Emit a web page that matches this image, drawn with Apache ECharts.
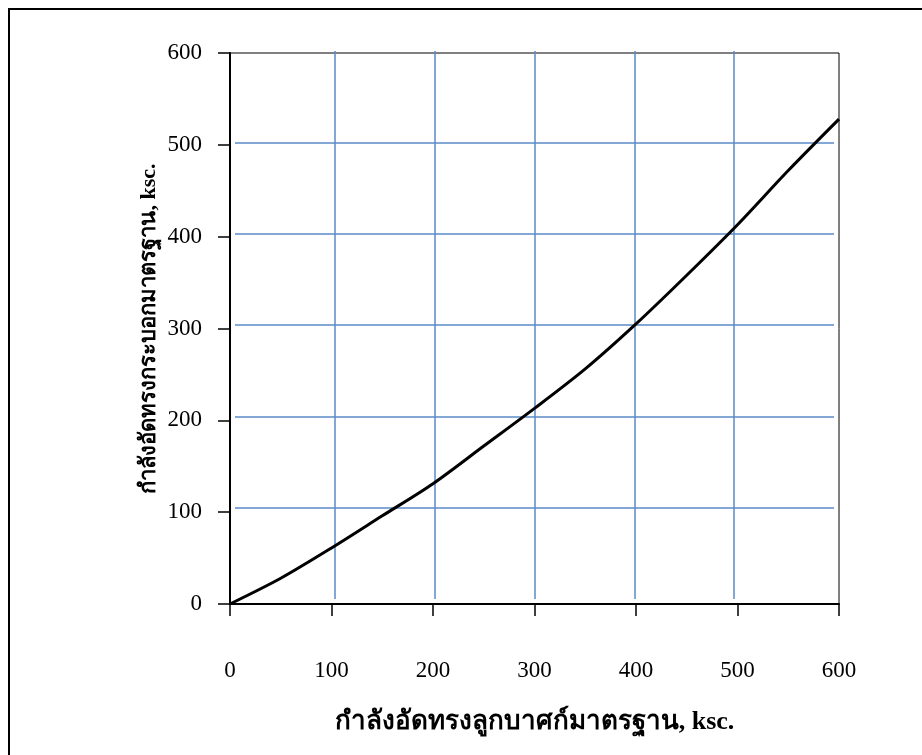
<!DOCTYPE html>
<html>
<head>
<meta charset="utf-8">
<script src="https://cdn.jsdelivr.net/npm/echarts@6/dist/echarts.min.js"></script>
<style>
html, body { margin: 0; padding: 0; background: #fff; }
#chart { width: 922px; height: 755px; }
</style>
</head>
<body>
<div id="chart"></div>
<script>
// cube strength (x) vs cylinder strength (y), ksc.
var cubeStrength = [0, 50, 100, 150, 200, 250, 300, 350, 400, 450, 500, 550, 600];
var cylStrength  = [0, 28, 61, 96, 131, 172, 213, 256, 305, 358, 413, 472, 528];
var tickValues = [0, 100, 200, 300, 400, 500, 600];

var xName = 'กำลังอัดทรงลูกบาศก์มาตรฐาน, ksc.',
	yName = 'กำลังอัดทรงกระบอกมาตรฐาน, ksc.';

var fontFam = '"Liberation Serif", "Times New Roman", serif';

var points = [];
for (var i = 0; i < cubeStrength.length; i++) {
	points.push([cubeStrength[i], cylStrength[i]]);
}

var myChart = echarts.init(document.getElementById('chart'));

var option = {
	animation : false,
	backgroundColor : '#fff',
	graphic : [{
		type : 'rect',
		shape : { x : 9, y : 9, width : 940, height : 780 },
		style : { fill : 'none', stroke : '#000', lineWidth : 2 },
		z : 100
	}],
	grid : [
		{ left : 230, top : 53, width : 609, height : 551,
		  show : true, borderColor : '#000', borderWidth : 1 },
		// grid lines in the original sit a few px off the ticks
		{ left : 235, top : 51, width : 599, height : 548 }
	],
	xAxis : [{
		type : 'value',
		gridIndex : 0,
		min : 0, max : 600, interval : 100,
		name : xName,
		nameLocation : 'middle',
		nameGap : 105,
		nameMoveOverlap : false,
		nameTextStyle : { fontFamily : fontFam, fontSize : 26, fontWeight : 'bold', color : '#000' },
		axisLine : { show : true, lineStyle : { color : '#000', width : 2 } },
		axisTick : { show : true, length : 12, lineStyle : { color : '#000', width : 1.5 } },
		axisLabel : { margin : 55, fontFamily : fontFam, fontSize : 23, color : '#000' },
		splitLine : { show : false }
	}, {
		type : 'value',
		gridIndex : 1,
		min : 0, max : 600, interval : 100,
		axisLine : { show : false }, axisTick : { show : false }, axisLabel : { show : false },
		splitLine : { show : true, showMinLine : false, showMaxLine : false,
			lineStyle : { color : '#5b8bc9', width : 1.5 } }
	}],
	yAxis : [{
		type : 'value',
		gridIndex : 0,
		min : 0, max : 600, interval : 100,
		name : yName,
		nameLocation : 'middle',
		nameGap : 70,
		nameMoveOverlap : false,
		nameTextStyle : { fontFamily : fontFam, fontSize : 22, fontWeight : 'bold', color : '#000' },
		axisLine : { show : true, lineStyle : { color : '#000', width : 2 } },
		axisTick : { show : true, length : 12, lineStyle : { color : '#000', width : 1.5 } },
		axisLabel : { margin : 28, fontFamily : fontFam, fontSize : 23, color : '#000' },
		splitLine : { show : false }
	}, {
		type : 'value',
		gridIndex : 1,
		min : 0, max : 600, interval : 100,
		axisLine : { show : false }, axisTick : { show : false }, axisLabel : { show : false },
		splitLine : { show : true, showMinLine : false, showMaxLine : false,
			lineStyle : { color : '#5b8bc9', width : 1.5 } }
	}],
	series : [{
		type : 'line',
		xAxisIndex : 0,
		yAxisIndex : 0,
		data : points,
		smooth : 0.3,
		showSymbol : false,
		clip : false,
		lineStyle : { color : '#000', width : 3 },
		z : 10
	}]
};

myChart.setOption(option);
</script>
</body>
</html>
